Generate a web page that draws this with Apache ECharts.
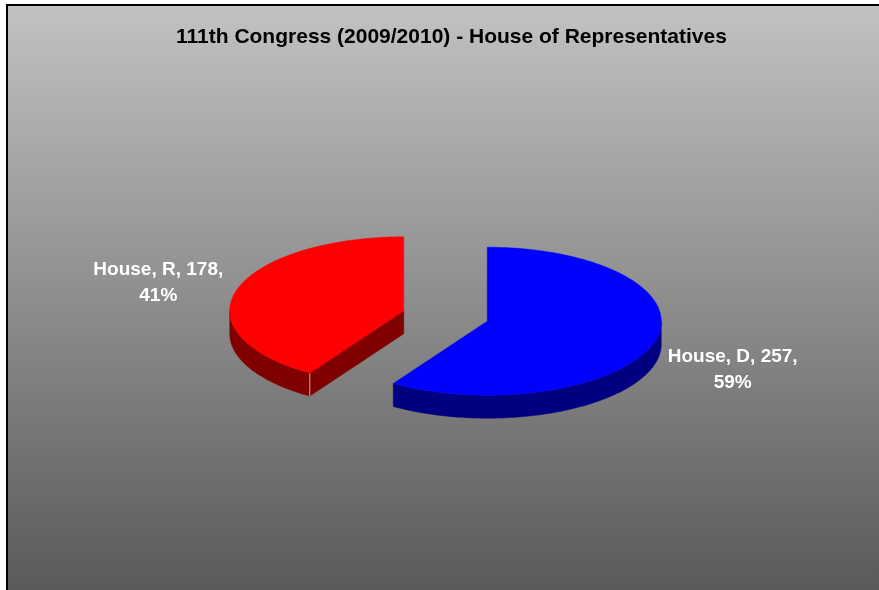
<!DOCTYPE html>
<html>
<head>
<meta charset="utf-8">
<script src="https://cdn.jsdelivr.net/npm/echarts@6/dist/echarts.min.js"></script>
<style>
html,body{margin:0;padding:0;background:#fff;}
#chart{width:879px;height:590px;}
</style>
</head>
<body>
<div id="chart"></div>
<script>
// ---- data ----
const chartTitle = '111th Congress (2009/2010) - House of Representatives';
const categories = ['House, D', 'House, R'];
const seats = [257, 178];
const topColors = ['#0000FF', '#FF0000'];
const sideColors = ['#000080', '#800000'];

// ---- layout (not data) ----
const CX = 445.5, CY = 316, RX = 174, RY = 74, DEPTH = 23, EXPLODE = 0.25;
const FONT_FAMILY = '"Liberation Sans", Arial, Helvetica, sans-serif';

const total = seats.reduce((a, b) => a + b, 0);

function pt(a, sx, sy, dz) {
  return [sx + RX * Math.sin(a), sy - RY * Math.cos(a) + dz];
}

function renderItem(params, api) {
  const i = params.dataIndex;
  const v = api.value(0);
  let cum = 0;
  for (let j = 0; j < i; j++) cum += seats[j];
  const a0 = 2 * Math.PI * cum / total;
  const a1 = a0 + 2 * Math.PI * v / total;
  const mid = (a0 + a1) / 2;
  const sx = CX + EXPLODE * RX * Math.sin(mid);
  const sy = CY - EXPLODE * RY * Math.cos(mid);
  const children = [];
  const side = sideColors[i], top = topColors[i];

  // outer curved side (front half only)
  const ranges = [[Math.PI / 2, 3 * Math.PI / 2], [Math.PI / 2 + 2 * Math.PI, 3 * Math.PI / 2 + 2 * Math.PI]];
  ranges.forEach(r => {
    const s = Math.max(a0, r[0]), e = Math.min(a1, r[1]);
    if (e > s) {
      const n = Math.max(4, Math.ceil((e - s) / (Math.PI / 180)));
      const up = [], down = [];
      for (let k = 0; k <= n; k++) {
        const a = s + (e - s) * k / n;
        up.push(pt(a, sx, sy, 0));
        down.push(pt(a, sx, sy, DEPTH));
      }
      children.push({ type: 'polygon', shape: { points: up.concat(down.reverse()) }, style: { fill: side, stroke: side, lineWidth: 0.5 } });
    }
  });

  // cut faces
  const faces = [];
  if (Math.sin(a0) < -1e-6) faces.push(a0);
  if (Math.sin(a1) > 1e-6) faces.push(a1);
  faces.forEach(a => {
    const r0 = pt(a, sx, sy, 0), r1 = pt(a, sx, sy, DEPTH);
    children.push({ type: 'polygon', shape: { points: [[sx, sy], r0, r1, [sx, sy + DEPTH]] }, style: { fill: side, stroke: side, lineWidth: 0.5 } });
    children.push({ type: 'line', shape: { x1: r0[0], y1: r0[1], x2: r1[0], y2: r1[1] }, style: { stroke: '#b0b0b0', lineWidth: 1 } });
  });

  // top face
  const n = Math.ceil((a1 - a0) / (Math.PI / 180));
  const pts = [[sx, sy]];
  for (let k = 0; k <= n; k++) pts.push(pt(a0 + (a1 - a0) * k / n, sx, sy, 0));
  children.push({ type: 'polygon', shape: { points: pts }, style: { fill: top, stroke: top, lineWidth: 0.5 } });

  // label
  const pct = Math.round(100 * v / total);
  const lx = sx + RX * 1.47 * Math.sin(mid);
  const ly = sy - RY * 1.35 * Math.cos(mid) + (Math.cos(mid) < 0 ? DEPTH * 0.9 : 0);
  children.push({
    type: 'text', x: lx, y: ly,
    style: {
      text: categories[i] + ', ' + v + ',\n' + pct + '%',
      fill: '#ffffff', fontSize: 19, fontWeight: 'bold', fontFamily: FONT_FAMILY,
      align: 'center', verticalAlign: 'middle', lineHeight: 26
    }
  });
  return { type: 'group', children: children };
}

const chart = echarts.init(document.getElementById('chart'));
chart.setOption({
  animation: false,
  title: {
    text: chartTitle, left: 171, top: 22,
    textStyle: { color: '#000', fontSize: 21, fontWeight: 'bold', fontFamily: FONT_FAMILY }
  },
  graphic: [{
    type: 'rect', z: -10, silent: true,
    shape: { x: 7, y: 5, width: 900, height: 600 },
    style: {
      fill: new echarts.graphic.LinearGradient(0, 0, 0, 1, [
        { offset: 0, color: '#c2c2c2' },
        { offset: 1, color: '#575757' }
      ]),
      stroke: '#000', lineWidth: 2
    }
  }],
  series: [{
    type: 'custom', coordinateSystem: 'none', silent: true,
    data: seats.map(v => [v]),
    renderItem: renderItem
  }]
});
</script>
</body>
</html>
